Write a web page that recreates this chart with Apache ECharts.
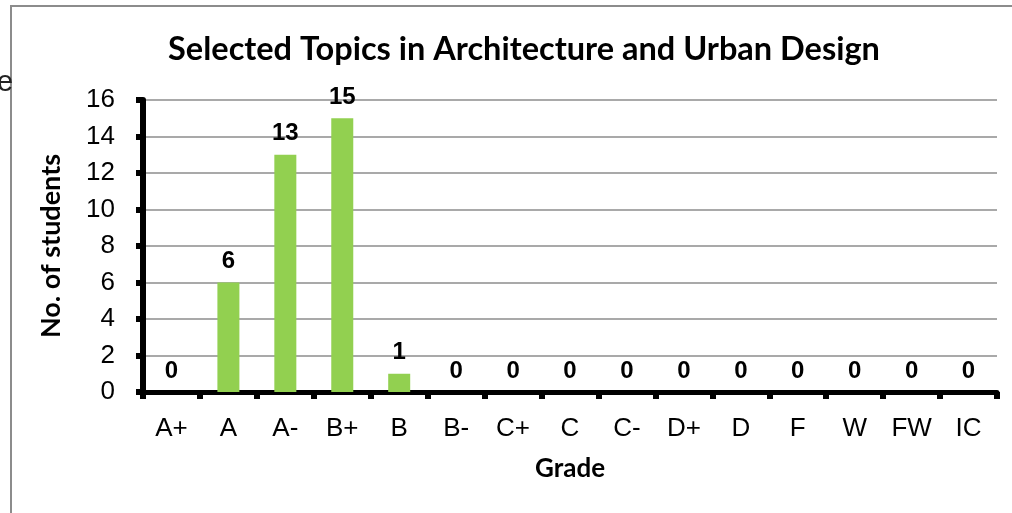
<!DOCTYPE html>
<html>
<head>
<meta charset="utf-8">
<script src="https://cdn.jsdelivr.net/npm/echarts@6/dist/echarts.min.js"></script>
<style>
  html, body { margin: 0; padding: 0; background: #fff; }
  #chart { width: 1012px; height: 513px; }
</style>
</head>
<body>
<div id="chart"></div>
<script>
// grade distribution
const grades = ['A+', 'A', 'A-', 'B+', 'B', 'B-', 'C+', 'C', 'C-', 'D+', 'D', 'F', 'W', 'FW', 'IC'];
const students = [0, 6, 13, 15, 1, 0, 0, 0, 0, 0, 0, 0, 0, 0, 0];
const yTicks = [0, 2, 4, 6, 8, 10, 12, 14, 16];

const chart = echarts.init(document.getElementById('chart'));

const option = {
  animation: false,
  title: {
    text: 'Selected Topics in Architecture and Urban Design',
    left: 519,
    textAlign: 'center',
    top: 28,
    textStyle: { fontFamily: 'Lato', fontWeight: 'bold', fontSize: 32.5, color: '#000' }
  },
  graphic: [
    {
      type: 'rect',
      shape: { x: 11, y: 6, width: 1010, height: 520 },
      style: { fill: 'none', stroke: '#8c8c8c', lineWidth: 2 },
      silent: true
    },
    {
      type: 'text',
      left: -3, top: 68,
      style: { text: 'e', fontFamily: 'Liberation Sans', fontSize: 29, fill: '#222' }
    }
  ],
  grid: { left: 143, right: 15, top: 100, bottom: 121 },
  xAxis: {
    type: 'category',
    data: grades,
    name: 'Grade',
    nameLocation: 'middle',
    nameGap: 64,
    nameTextStyle: { fontFamily: 'Lato', fontWeight: 'bold', fontSize: 26, color: '#000' },
    axisLine: { lineStyle: { color: '#000', width: 5 } },
    axisTick: { show: true, interval: 0, length: 7, lineStyle: { color: '#000', width: 6 } },
    axisLabel: { interval: 0, margin: 24, fontFamily: 'Liberation Sans', fontSize: 26, color: '#000' }
  },
  yAxis: {
    type: 'value',
    min: yTicks[0],
    max: yTicks[yTicks.length - 1],
    interval: 2,
    name: 'No. of students',
    nameLocation: 'middle',
    nameGap: 78,
    nameTextStyle: { fontFamily: 'Lato', fontWeight: 'bold', fontSize: 27, color: '#000' },
    axisLine: { show: true, lineStyle: { color: '#000', width: 6 } },
    axisTick: { show: true, length: 7, lineStyle: { color: '#000', width: 6 } },
    axisLabel: { margin: 28, fontFamily: 'Liberation Sans', fontSize: 26, color: '#000' },
    splitLine: { lineStyle: { color: '#8c8c8c', width: 1.5 } }
  },
  series: [{
    type: 'bar',
    data: students,
    barWidth: 22,
    itemStyle: { color: '#92d050' },
    label: {
      show: true,
      position: 'top',
      distance: 9,
      fontFamily: 'Liberation Sans',
      fontWeight: 'bold',
      fontSize: 24,
      color: '#000'
    }
  }]
};

chart.setOption(option);
</script>
</body>
</html>
